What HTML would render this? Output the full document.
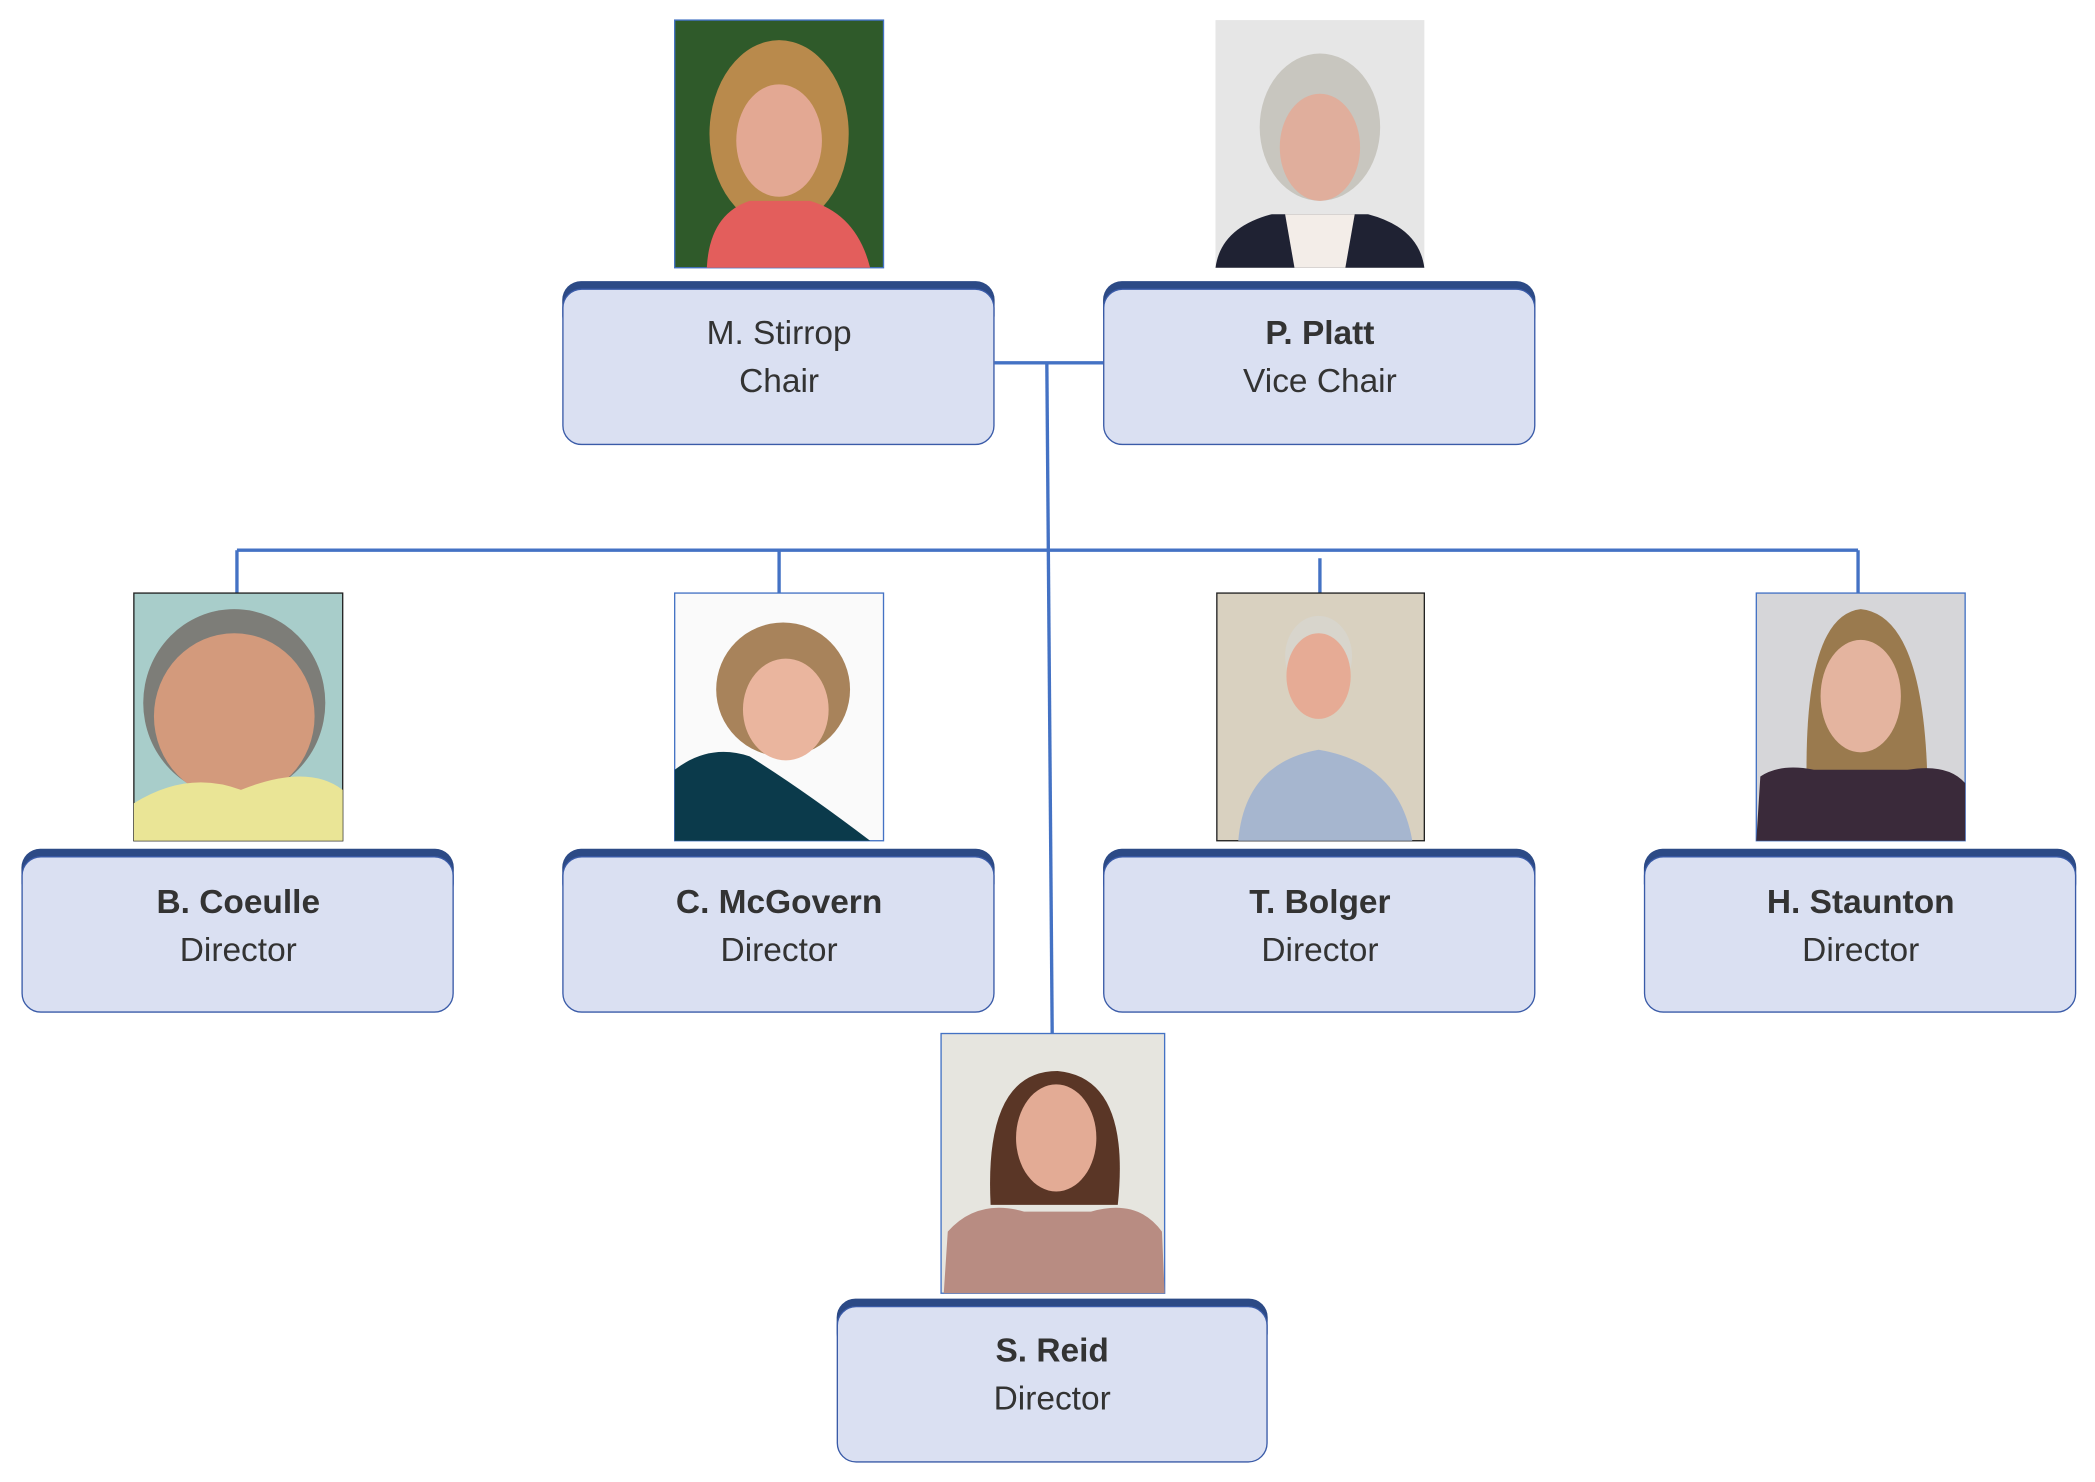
<!DOCTYPE html>
<html><head><meta charset="utf-8"><style>
html,body{margin:0;padding:0;background:#fff;width:2095px;height:1482px;overflow:hidden}
svg{display:block}
text{font-family:"Liberation Sans",sans-serif;fill:#333;text-anchor:middle}
.n{font-size:25px}
.b{font-weight:bold}
</style></head><body>
<svg width="2095" height="1482" viewBox="0 0 1565 1107" preserveAspectRatio="none">
<defs>
<linearGradient id="bg1" x1="0" y1="0" x2="0" y2="1"><stop offset="0" stop-color="#e8e6e0"/><stop offset="1" stop-color="#d6d3cc"/></linearGradient>
</defs>
<!-- connectors -->
<g stroke="#4472c4" stroke-width="2.5" fill="none">
<path d="M743 271 H824"/>
<path d="M782 271 L786 772"/>
<path d="M177 411 H1388"/>
<path d="M177 411 V443"/>
<path d="M582 411 V443"/>
<path d="M986 417 V443"/>
<path d="M1388 411 V443"/>
</g>

<!-- photos -->
<!-- Stirrop -->
<g>
<rect x="504" y="15" width="156" height="185" fill="#2f5a2a" stroke="#4472c4"/>
<ellipse cx="582" cy="100" rx="52" ry="70" fill="#b98a4c"/>
<ellipse cx="582" cy="105" rx="32" ry="42" fill="#e3a893"/>
<path d="M528 200 Q530 160 560 150 L605 150 Q640 160 650 200 Z" fill="#e35e5c"/>
</g>
<!-- Platt -->
<g>
<rect x="908" y="15" width="156" height="185" fill="#e6e6e6"/>
<ellipse cx="986" cy="95" rx="45" ry="55" fill="#c8c6bf"/>
<ellipse cx="986" cy="110" rx="30" ry="40" fill="#e0ae9c"/>
<path d="M908 200 Q912 170 950 160 L1022 160 Q1060 170 1064 200 Z" fill="#1f2233"/>
<path d="M960 160 L1012 160 L1005 200 L967 200 Z" fill="#f3ede8"/>
</g>
<!-- Coeulle -->
<g>
<rect x="100" y="443" width="156" height="185" fill="#a8cdca" stroke="#222"/>
<ellipse cx="175" cy="525" rx="68" ry="70" fill="#7d7d78"/>
<ellipse cx="175" cy="535" rx="60" ry="62" fill="#d39a7c"/>
<path d="M100 628 L100 600 Q140 575 180 590 Q230 570 256 590 L256 628 Z" fill="#eae596"/>
</g>
<!-- McGovern -->
<g>
<rect x="504" y="443" width="156" height="185" fill="#fafafa" stroke="#4472c4"/>
<ellipse cx="585" cy="515" rx="50" ry="50" fill="#a8835b"/>
<ellipse cx="587" cy="530" rx="32" ry="38" fill="#eab59e"/>
<path d="M504 628 L504 575 Q530 555 560 565 Q600 590 650 628 Z" fill="#0b3a4b"/>
</g>
<!-- Bolger -->
<g>
<rect x="909" y="443" width="155" height="185" fill="#d9d1c0" stroke="#222"/>
<ellipse cx="985" cy="490" rx="25" ry="30" fill="#d8d5cc"/>
<ellipse cx="985" cy="505" rx="24" ry="32" fill="#e6ab95"/>
<path d="M925 628 Q930 570 985 560 Q1045 570 1055 628 Z" fill="#a6b6cf"/>
</g>
<!-- Staunton -->
<g>
<rect x="1312" y="443" width="156" height="185" fill="#d6d6d9" stroke="#4472c4"/>
<path d="M1350 600 Q1345 460 1390 455 Q1440 460 1440 600 Z" fill="#9a7a4e"/>
<ellipse cx="1390" cy="520" rx="30" ry="42" fill="#e4b49f"/>
<path d="M1312 628 L1315 580 Q1330 570 1355 575 L1425 575 Q1455 570 1468 585 L1468 628 Z" fill="#3a2a3a"/>
</g>
<!-- Reid -->
<g>
<rect x="703" y="772" width="167" height="194" fill="#e6e5df" stroke="#4472c4"/>
<path d="M740 900 Q735 800 790 800 Q845 805 835 900 Z" fill="#5a3626"/>
<ellipse cx="789" cy="850" rx="30" ry="40" fill="#e3ab95"/>
<path d="M705 966 L708 920 Q730 895 765 905 L815 905 Q850 895 868 920 L870 966 Z" fill="#b88c82"/>
</g>

<!-- boxes -->
<g id="boxes">
<g>
<rect x="420" y="210" width="323" height="40" rx="14" fill="#2c4a86"/>
<rect x="420.5" y="216" width="322" height="116" rx="14" fill="#dae0f2" stroke="#3a5ba8"/>
<text class="n" x="582" y="257">M. Stirrop</text>
<text class="n" x="582" y="293">Chair</text>
</g>
<g>
<rect x="824" y="210" width="323" height="40" rx="14" fill="#2c4a86"/>
<rect x="824.5" y="216" width="322" height="116" rx="14" fill="#dae0f2" stroke="#3a5ba8"/>
<text class="n b" x="986" y="257">P. Platt</text>
<text class="n" x="986" y="293">Vice Chair</text>
</g>
<g>
<rect x="16" y="634" width="323" height="40" rx="14" fill="#2c4a86"/>
<rect x="16.5" y="640" width="322" height="116" rx="14" fill="#dae0f2" stroke="#3a5ba8"/>
<text class="n b" x="178" y="682">B. Coeulle</text>
<text class="n" x="178" y="718">Director</text>
</g>
<g>
<rect x="420" y="634" width="323" height="40" rx="14" fill="#2c4a86"/>
<rect x="420.5" y="640" width="322" height="116" rx="14" fill="#dae0f2" stroke="#3a5ba8"/>
<text class="n b" x="582" y="682">C. McGovern</text>
<text class="n" x="582" y="718">Director</text>
</g>
<g>
<rect x="824" y="634" width="323" height="40" rx="14" fill="#2c4a86"/>
<rect x="824.5" y="640" width="322" height="116" rx="14" fill="#dae0f2" stroke="#3a5ba8"/>
<text class="n b" x="986" y="682">T. Bolger</text>
<text class="n" x="986" y="718">Director</text>
</g>
<g>
<rect x="1228" y="634" width="323" height="40" rx="14" fill="#2c4a86"/>
<rect x="1228.5" y="640" width="322" height="116" rx="14" fill="#dae0f2" stroke="#3a5ba8"/>
<text class="n b" x="1390" y="682">H. Staunton</text>
<text class="n" x="1390" y="718">Director</text>
</g>
<g>
<rect x="625" y="970" width="322" height="40" rx="14" fill="#2c4a86"/>
<rect x="625.5" y="976" width="321" height="116" rx="14" fill="#dae0f2" stroke="#3a5ba8"/>
<text class="n b" x="786" y="1017">S. Reid</text>
<text class="n" x="786" y="1053">Director</text>
</g>
</g>
</svg>
</body></html>
